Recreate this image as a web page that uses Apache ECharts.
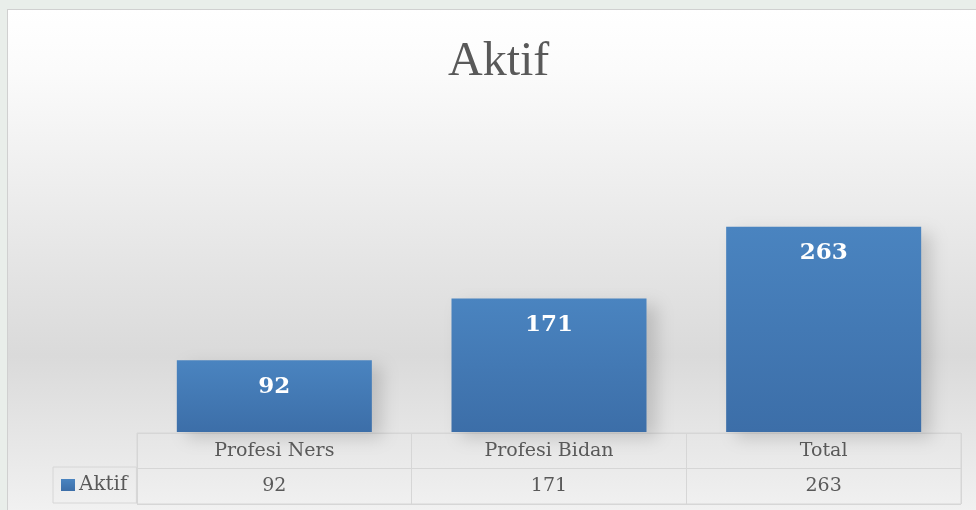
<!DOCTYPE html>
<html>
<head>
    <meta charset="utf-8">
    <title>Aktif</title>
    <script src="https://cdn.jsdelivr.net/npm/echarts@6/dist/echarts.min.js"></script>
    <style>
        body { margin: 0; background: #e9eeea; }
        #main { position: absolute; left: 7px; top: 9px; width: 969px; height: 501px; border-left: 1px solid #d0d0d0; border-top: 1px solid #d0d0d0; }
    </style>
</head>
<body>
    <div id="main"></div>
    <script type="text/javascript">
        var myChart = echarts.init(document.getElementById('main'));

        // data
        var categories = ['Profesi Ners', 'Profesi Bidan', 'Total'];
        var aktif = [92, 171, 263];
        var rows = ['val', 'head'];

        // text cells of the data table (header row + values row)
        var cells = [];
        categories.forEach(function (c, i) {
            cells.push({ value: [c, 'head'], text: c });
            cells.push({ value: [c, 'val'], text: String(aktif[i]) });
        });

        var gridLine = '#d6d6d6';
        var option = {
            backgroundColor: new echarts.graphic.LinearGradient(0, 0, 0, 1, [
                { offset: 0, color: '#ffffff' },
                { offset: 0.12, color: '#fbfbfb' },
                { offset: 0.69, color: '#dadada' },
                { offset: 1, color: '#f1f1f1' }
            ]),
            title: {
                text: 'Aktif',
                left: 435,
                top: 23,
                textStyle: { fontFamily: 'Liberation Serif', fontSize: 48, fontWeight: 'normal', color: '#595959' }
            },
            legend: {
                data: ['Aktif'],
                left: 45,
                top: 457,
                icon: 'rect',
                itemWidth: 14,
                itemHeight: 12,
                itemGap: 5,
                padding: [8, 9, 8, 8],
                borderColor: gridLine,
                borderWidth: 1,
                textStyle: { fontFamily: 'DejaVu Serif', fontSize: 20, color: '#595959', padding: [0, 0, 0, -1] }
            },
            grid: [
                { left: 129, right: 16, top: 188, bottom: 79 },
                { left: 129, right: 16, top: 423, bottom: 7, show: true, borderColor: gridLine, borderWidth: 1 }
            ],
            xAxis: [
                { type: 'category', data: categories, gridIndex: 0, show: false },
                {
                    type: 'category', data: categories, gridIndex: 1,
                    axisLine: { show: false }, axisTick: { show: false }, axisLabel: { show: false },
                    splitLine: { show: true, lineStyle: { color: gridLine, width: 1 } }
                }
            ],
            yAxis: [
                { type: 'value', min: 0, max: 300, gridIndex: 0, show: false },
                {
                    type: 'category', data: rows, gridIndex: 1,
                    axisLine: { show: false }, axisTick: { show: false }, axisLabel: { show: false },
                    splitLine: { show: true, lineStyle: { color: gridLine, width: 1 } }
                }
            ],
            series: [
                {
                    name: 'Aktif',
                    type: 'bar',
                    data: aktif,
                    barWidth: '71%',
                    itemStyle: {
                        color: new echarts.graphic.LinearGradient(0, 0, 0, 1, [
                            { offset: 0, color: '#4a84c0' },
                            { offset: 1, color: '#3c6ea8' }
                        ]),
                        shadowColor: 'rgba(0,0,0,0.15)',
                        shadowBlur: 16,
                        shadowOffsetX: 10,
                        shadowOffsetY: 6
                    },
                    label: {
                        show: true,
                        position: 'insideTop',
                        distance: 15,
                        fontFamily: 'DejaVu Serif',
                        fontWeight: 'bold',
                        fontSize: 23,
                        color: '#ffffff'
                    }
                },
                {
                    name: 'table',
                    type: 'scatter',
                    xAxisIndex: 1,
                    yAxisIndex: 1,
                    symbolSize: 0,
                    silent: true,
                    itemStyle: { opacity: 1 },
                    data: cells,
                    label: {
                        show: true,
                        position: 'inside',
                        formatter: function (p) { return p.data.text; },
                        fontFamily: 'DejaVu Serif',
                        fontSize: 19,
                        color: '#595959'
                    }
                }
            ]
        };

        myChart.setOption(option);
    </script>
</body>
</html>
